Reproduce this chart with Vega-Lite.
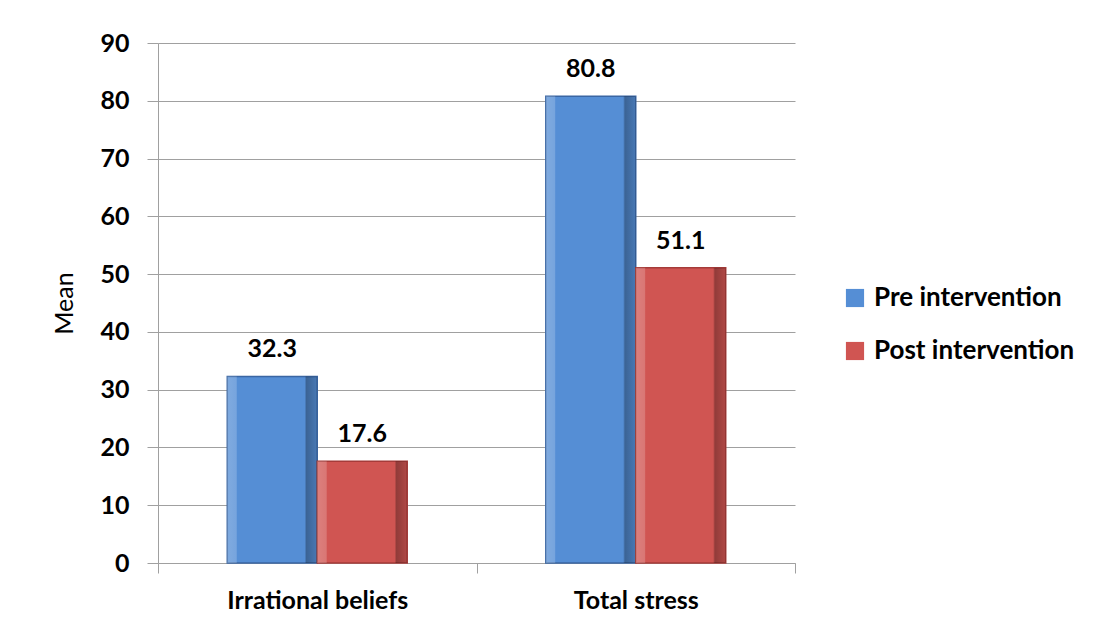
{
  "$schema": "https://vega.github.io/schema/vega-lite/v6.json",
  "autosize": {"type": "none"},
  "padding": {"left": 158, "top": 43, "right": 321, "bottom": 65},
  "width": 637,
  "height": 520,
  "background": "white",
  "config": {
    "font": "Lato",
    "view": {"stroke": null},
    "axis": {"labelFont": "Lato", "titleFont": "Lato", "labelColor": "#000000", "titleColor": "#000000"}
  },
  "data": {
    "values": [
      {"category": "Irrational beliefs", "group": "Pre intervention", "mean": 32.3},
      {"category": "Irrational beliefs", "group": "Post intervention", "mean": 17.6},
      {"category": "Total stress", "group": "Pre intervention", "mean": 80.8},
      {"category": "Total stress", "group": "Post intervention", "mean": 51.1}
    ]
  },
  "encoding": {
    "x": {
      "field": "category", "type": "nominal", "sort": null,
      "scale": {"paddingInner": 0, "paddingOuter": 0},
      "axis": {
        "title": null, "labelAngle": 0, "labelFontSize": 25, "labelFontWeight": "bold",
        "tickBand": "extent", "tickSize": 10, "tickColor": "#A0A0A0", "domainColor": "#A0A0A0",
        "labelPadding": 15, "labelLimit": 400
      }
    },
    "xOffset": {
      "field": "group", "type": "nominal", "sort": ["Pre intervention", "Post intervention"],
      "scale": {"paddingInner": 0, "paddingOuter": 0.77}
    },
    "y": {
      "field": "mean", "type": "quantitative",
      "scale": {"domain": [0, 90], "nice": false},
      "axis": {
        "title": "Mean", "titleFontSize": 25, "titleFontWeight": "normal", "titlePadding": 22,
        "values": [0, 10, 20, 30, 40, 50, 60, 70, 80, 90],
        "labelFontSize": 25, "labelFontWeight": "bold", "labelPadding": 18,
        "tickSize": 11, "tickColor": "#A0A0A0", "domainColor": "#A0A0A0",
        "gridColor": "#A0A0A0", "gridWidth": 1
      }
    }
  },
  "layer": [
    {
      "mark": {"type": "bar", "strokeWidth": 1.5},
      "encoding": {
        "color": {
          "field": "group", "type": "nominal",
          "scale": {"domain": ["Pre intervention", "Post intervention"], "range": ["#558ED5", "#D05552"]},
          "legend": {
            "title": null, "orient": "none", "legendX": 684, "legendY": 242,
            "symbolType": "square", "symbolSize": 330, "symbolStrokeWidth": 0,
            "labelFontSize": 26, "labelFontWeight": "bold", "labelFont": "Lato", "labelColor": "#000000",
            "rowPadding": 27, "labelOffset": 6, "labelLimit": 300
          }
        },
        "stroke": {
          "field": "group", "type": "nominal", "legend": null,
          "scale": {"domain": ["Pre intervention", "Post intervention"], "range": ["#3A66A3", "#A53B39"]}
        }
      }
    },
    {
      "mark": {
        "type": "bar",
        "color": {
          "gradient": "linear", "x1": 0, "y1": 0, "x2": 1, "y2": 0,
          "stops": [
            {"offset": 0, "color": "rgba(255,255,255,0.25)"},
            {"offset": 0.1, "color": "rgba(255,255,255,0.2)"},
            {"offset": 0.11, "color": "rgba(255,255,255,0)"},
            {"offset": 0.86, "color": "rgba(0,0,0,0)"},
            {"offset": 0.88, "color": "rgba(0,0,0,0.3)"},
            {"offset": 1, "color": "rgba(0,0,0,0.15)"}
          ]
        }
      }
    },
    {
      "mark": {"type": "text", "baseline": "bottom", "dy": -14, "fontSize": 25, "fontWeight": "bold", "font": "Lato", "color": "#000000"},
      "encoding": {"text": {"field": "mean", "type": "quantitative", "format": ".1f"}}
    }
  ]
}
